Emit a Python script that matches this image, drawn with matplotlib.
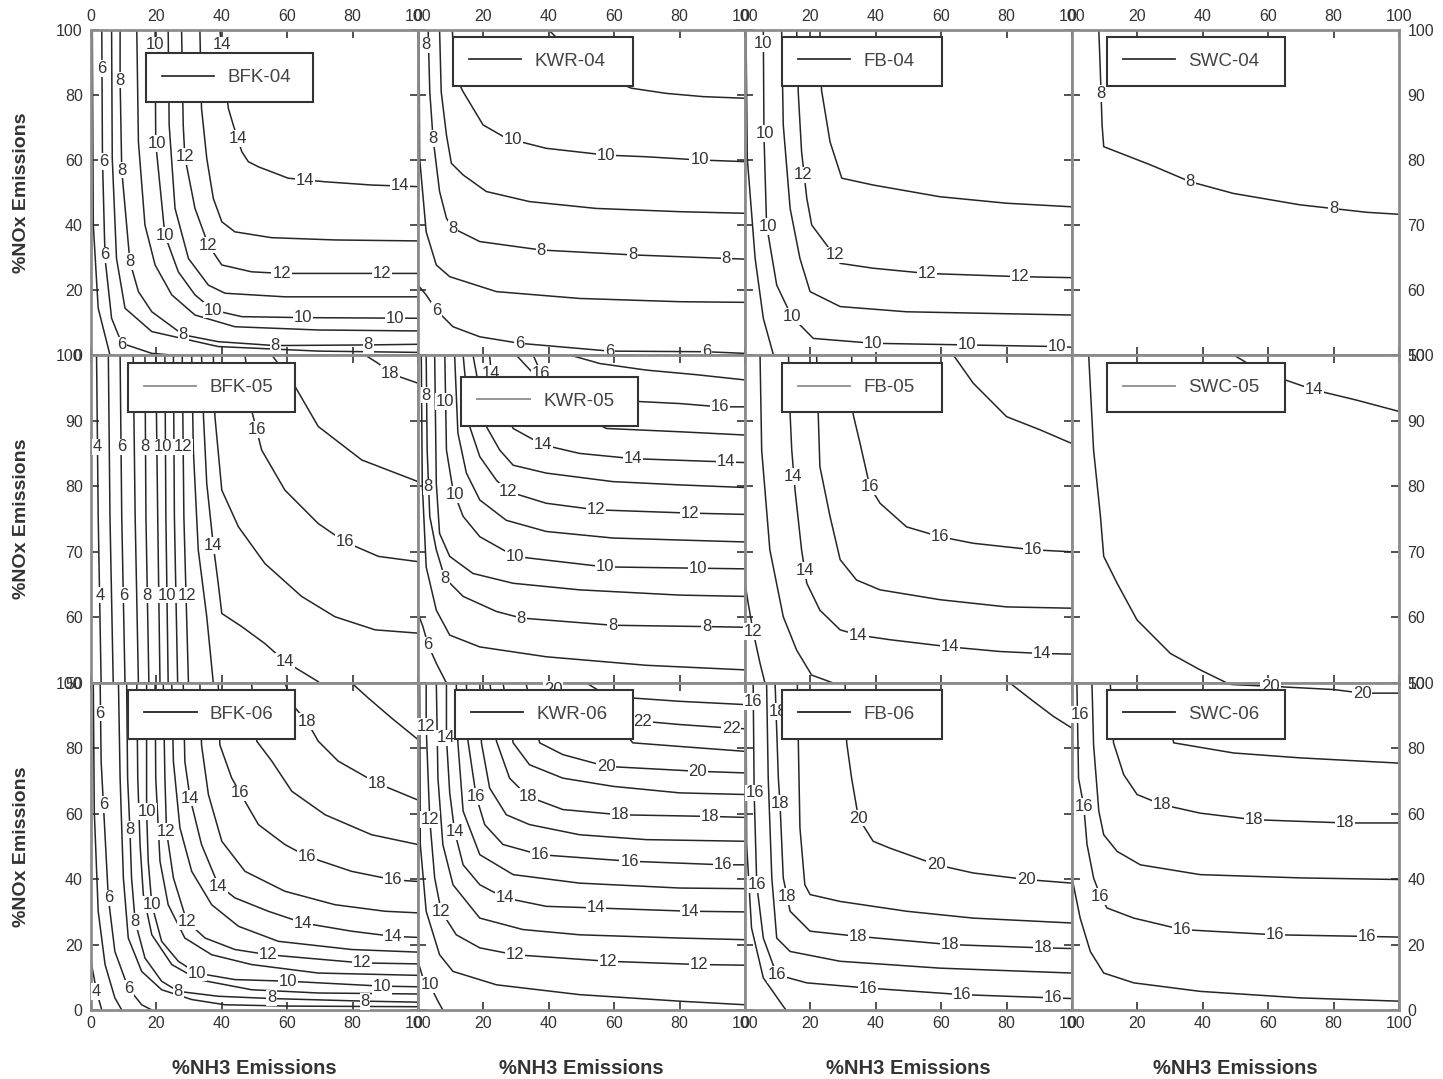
import matplotlib
matplotlib.use("Agg")
import matplotlib.pyplot as plt
from matplotlib.lines import Line2D

plt.rcParams["font.family"] = ["Liberation Sans", "DejaVu Sans"]

# ---------------------------------------------------------------------------
# Contour lines: (level, x = %NH3, y = %NOx)
# Labels: (x, y, level)
# ---------------------------------------------------------------------------
BFK04_LINES = [
    (5, [0.4, 0.7, 2.2, 5.8], [100, 40, 14.4, 0]),
    (6, [3.3, 3.5, 4.3, 6.3, 9.4, 18.6, 24.7], [100, 60.5, 29.7, 11.3, 3.6, 0.5, 0]),
    (7, [6.3, 6.5, 7.8, 10.4, 18.6, 38.9, 69.5, 100], [100, 60.5, 29.7, 14.4, 7.2, 2.6, 1.2, 0.8]),
    (8, [8.9, 8.9, 9.4, 11.9, 14.5, 18.6, 28.2, 38.9, 56.3, 84.8, 100],
     [100, 84.6, 56.9, 28.7, 19.5, 13.3, 6.2, 4.1, 2.9, 3.1, 3.3]),
    (9, [14.0, 14.5, 16.5, 19.6, 24.7, 31.8, 44.0, 69.5, 100], [100, 65.6, 40.0, 27.7, 18.5, 12.3, 8.7, 7.7, 7.4]),
    (10, [19.6, 19.8, 22.6, 26.7, 31.8, 37.4, 46.1, 64.9, 100], [100, 65.1, 36.9, 25.6, 18.5, 13.8, 11.8, 11.5, 11.3]),
    (11, [23.6, 23.9, 25.7, 29.8, 35.9, 41.0, 59.3, 100], [100, 70.8, 45.1, 29.7, 21.5, 19.0, 17.9, 17.9]),
    (12, [27.7, 28.2, 28.7, 31.8, 35.9, 40.0, 49.1, 58.3, 100], [100, 70.8, 61.0, 45.1, 33.8, 27.7, 25.6, 25.1, 25.1]),
    (13, [33.3, 33.8, 35.4, 37.4, 40.0, 44.0, 55.2, 74.6, 100], [100, 75.9, 60.5, 48.2, 41.0, 37.9, 36.1, 35.4, 35.1]),
    (14, [39.4, 42.0, 43.5, 46.1, 48.1, 51.2, 60.3, 71.6, 85.8, 100],
     [100, 75.9, 70.8, 62.6, 59.5, 57.9, 54.4, 53.3, 52.3, 51.8]),
]
BFK04_LABELS = [(3.3, 88.2, 6), (8.9, 84.6, 8), (19.6, 95.4, 10), (40.0, 95.4, 14), (3.8, 59.5, 6),
                (9.4, 56.9, 8), (20.1, 65.1, 10), (28.7, 61.0, 12), (45.1, 66.7, 14), (4.3, 30.8, 6),
                (11.9, 28.7, 8), (22.6, 36.9, 10), (35.9, 33.8, 12), (58.3, 25.1, 12), (88.9, 25.1, 12),
                (65.4, 53.8, 14), (94.5, 52.3, 14), (9.4, 3.1, 6), (28.2, 6.2, 8), (56.3, 2.9, 8),
                (84.8, 3.1, 8), (37.4, 13.8, 10), (64.9, 11.5, 10), (93.0, 11.3, 10)]

KWR04_LINES = [
    (6, [0, 2.5, 5.6, 10.7, 18.9, 31.1, 58.6, 88.2, 100], [21.5, 18.5, 13.8, 8.7, 5.6, 3.6, 1.2, 1.0, 0.5]),
    (7, [0.3, 0.5, 2.5, 5.6, 9.7, 24.0, 49.4, 80.0, 100], [100, 60.5, 37.9, 27.7, 24.1, 19.5, 17.4, 16.4, 16.2]),
    (8, [3.1, 3.6, 4.6, 6.6, 8.7, 10.7, 18.9, 37.7, 65.7, 94.3, 100],
     [100, 81.0, 66.7, 50.3, 42.1, 39.0, 34.9, 32.3, 30.8, 29.7, 29.5]),
    (9, [6.6, 7.1, 8.7, 10.2, 13.8, 20.9, 34.1, 54.5, 80.0, 100], [100, 81.0, 67.7, 59.0, 55.4, 50.3, 47.2, 45.1, 44.1, 43.6]),
    (10, [10.5, 11.2, 13.8, 19.9, 27.0, 39.2, 57.6, 69.8, 86.1, 100],
     [100, 86.2, 81.0, 70.8, 66.7, 63.6, 61.5, 61.0, 60.0, 59.5]),
    (11, [40.0, 52.0, 65.2, 75.9, 87.2, 100], [100, 88.0, 82.1, 80.5, 79.5, 79.0]),
]
KWR04_LABELS = [(2.5, 95.4, 8), (29.1, 66.2, 10), (57.6, 61.5, 10), (86.1, 60.0, 10), (4.6, 66.7, 8),
                (10.7, 39.0, 8), (37.7, 32.3, 8), (65.7, 30.8, 8), (94.3, 29.7, 8), (5.6, 13.8, 6),
                (31.1, 3.6, 6), (58.6, 1.2, 6), (88.2, 1.0, 6)]

FB04_LINES = [
    (9, [0.3, 0.7, 3.1, 5.6, 8.7], [100, 60.5, 29.7, 11.3, 0]),
    (10, [5.6, 5.8, 6.6, 9.7, 14.3, 20.9, 39.2, 67.8, 95.3, 100], [100, 67.7, 40.0, 21.5, 11.8, 5.1, 3.6, 3.1, 2.6, 2.4]),
    (11, [11.2, 11.7, 13.8, 16.8, 19.9, 29.1, 49.4, 100], [100, 70.8, 45.1, 29.7, 19.5, 14.9, 13.3, 12.3]),
    (12, [15.8, 16.3, 17.3, 18.9, 20.4, 25.0, 29.1, 39.2, 55.6, 84.1, 100],
     [100, 80.5, 62.6, 48.2, 40.0, 33.8, 28.2, 26.7, 25.1, 24.1, 23.8]),
    (13, [22.9, 23.4, 26.0, 29.6, 39.2, 59.6, 80.0, 100], [100, 81.5, 65.6, 54.4, 52.3, 48.7, 46.7, 45.6]),
]
FB04_LABELS = [(5.6, 95.9, 10), (6.1, 68.2, 10), (7.1, 39.5, 10), (14.3, 11.8, 10), (39.2, 3.6, 10),
               (67.8, 3.1, 10), (95.3, 2.6, 10), (17.8, 55.4, 12), (27.5, 30.8, 12), (55.6, 25.1, 12),
               (84.1, 24.1, 12)]

SWC04_LINES = [
    (8, [8.2, 8.7, 9.2, 9.7, 24.0, 36.2, 49.4, 69.8, 90.2, 100], [100, 86.2, 70.8, 64.1, 58.5, 53.3, 49.7, 46.2, 43.9, 43.3]),
]
SWC04_LABELS = [(8.7, 80.5, 8), (36.2, 53.3, 8), (80.0, 45.1, 8)]

BFK05_LINES = [
    (4, [1.7, 2.2, 3.1], [100, 75.4, 50]),
    (5, [5.3, 5.8, 6.8], [100, 75.4, 50]),
    (6, [8.9, 9.4, 10.4], [100, 75.4, 50]),
    (7, [12.9, 13.5, 14.5], [100, 75.4, 50]),
    (8, [16.5, 16.8, 17.7], [100, 75.4, 50]),
    (9, [19.8, 20.4, 21.1], [100, 75.4, 50]),
    (10, [22.6, 22.9, 23.6], [100, 75.4, 50]),
    (11, [25.2, 25.5, 26.5], [100, 75.4, 50]),
    (12, [27.9, 28.4, 29.8], [100, 75.4, 50]),
    (13, [30.8, 31.3, 32.8, 35.4, 37.4], [100, 85.5, 70.3, 60.1, 50]),
    (14, [33.8, 34.4, 35.4, 37.4, 38.9, 40.0, 46.1, 53.2, 59.3, 69.5],
     [100, 90.6, 80.4, 71.0, 65.2, 60.6, 58.6, 56.0, 53.3, 50.2]),
    (15, [37.4, 37.9, 40.0, 45.1, 53.2, 64.4, 74.6, 86.9, 100], [100, 90.6, 79.4, 73.8, 68.2, 63.2, 60.1, 58.1, 57.6]),
    (16, [47.1, 49.1, 52.2, 59.3, 69.5, 77.7, 87.9, 100], [100, 91.6, 85.5, 79.4, 74.3, 71.5, 69.3, 68.5]),
    (17, [55.3, 62.4, 69.5, 82.8, 100], [100, 95.2, 89.1, 84.0, 80.7]),
    (18, [83.8, 87.9, 91.4, 100], [100, 98.7, 97.2, 95.7]),
]
BFK05_LABELS = [(2.0, 86.0, 4), (9.4, 86.0, 6), (16.5, 86.0, 8), (22.1, 86.0, 10), (28.2, 86.0, 12),
                (2.8, 63.4, 4), (9.9, 63.4, 6), (17.0, 63.4, 8), (23.1, 63.4, 10), (29.3, 63.4, 12),
                (37.4, 71.0, 14), (59.3, 53.3, 14), (50.7, 88.6, 16), (77.7, 71.5, 16), (91.4, 97.2, 18)]

KWR05_LINES = [
    (6, [0, 1.5, 3.1, 5.6, 8.7], [60.6, 58.6, 55.8, 53.0, 50]),
    (7, [1.0, 1.3, 2.5, 5.6, 9.7, 18.9, 39.2, 69.8, 100], [100, 80.4, 67.7, 61.1, 57.3, 55.5, 54.0, 52.7, 52.0]),
    (8, [2.5, 2.8, 3.6, 5.6, 8.2, 13.8, 24.0, 31.6, 59.6, 88.2, 100],
     [100, 85.5, 75.4, 70.3, 66.0, 63.2, 60.9, 59.9, 58.8, 58.6, 58.5]),
    (9, [5.1, 5.6, 6.6, 9.7, 16.8, 29.1, 49.4, 80.0, 100], [100, 80.4, 72.8, 69.3, 66.7, 65.2, 64.2, 63.4, 63.2]),
    (10, [8.2, 8.7, 10.7, 13.8, 18.9, 29.6, 57.1, 85.6, 100], [100, 85.5, 79.4, 75.4, 72.3, 69.3, 67.7, 67.5, 67.4]),
    (11, [11.2, 12.2, 14.8, 18.9, 27.0, 39.2, 59.6, 100], [100, 88.1, 82.0, 77.9, 74.8, 73.1, 72.1, 71.5]),
    (12, [13.8, 15.8, 18.9, 24.0, 27.5, 39.2, 54.5, 83.1, 100], [100, 89.1, 84.5, 80.9, 79.2, 77.4, 76.4, 75.9, 75.7]),
    (13, [16.8, 20.9, 25.0, 29.1, 39.2, 59.6, 80.0, 100], [100, 89.1, 85.5, 83.2, 82.0, 80.7, 80.2, 79.8]),
    (14, [21.9, 22.4, 25.0, 29.1, 38.2, 49.4, 65.7, 94.3, 100], [100, 97.2, 93.0, 88.8, 86.3, 85.0, 84.2, 83.7, 83.6]),
    (15, [30.0, 45.0, 57.6, 80.0, 100], [100, 92.0, 88.8, 88.3, 87.8]),
    (16, [35.2, 37.7, 50.0, 67.8, 80.0, 92.3, 100], [100, 97.2, 94.0, 92.9, 92.6, 92.1, 92.1]),
    (17, [46.4, 55.6, 69.8, 85.1, 100], [100, 98.7, 97.7, 97.0, 96.2]),
]
KWR05_LABELS = [(2.5, 93.9, 8), (8.2, 92.9, 10), (22.4, 97.2, 14), (37.7, 97.2, 16), (92.3, 92.1, 16),
                (38.2, 86.3, 14), (65.7, 84.2, 14), (94.3, 83.7, 14), (3.1, 79.9, 8), (11.2, 78.7, 10),
                (27.5, 79.2, 12), (54.5, 76.4, 12), (83.1, 75.9, 12), (29.6, 69.3, 10), (57.1, 67.7, 10),
                (85.6, 67.5, 10), (8.2, 66.0, 8), (31.6, 59.9, 8), (59.6, 58.8, 8), (88.2, 58.6, 8),
                (3.1, 55.8, 6)]

FB05_LINES = [
    (12, [0, 1.0, 2.5, 4.6, 6.1], [65.2, 62.1, 57.8, 53.0, 50]),
    (13, [4.6, 5.1, 7.6, 11.7, 15.8, 20.4, 27.0], [100, 85.5, 70.3, 60.1, 55.0, 51.2, 50]),
    (14, [13.3, 13.8, 14.3, 15.3, 17.3, 18.9, 22.9, 29.1, 34.7, 44.3, 62.7, 78.0, 90.7, 100],
     [100, 90.9, 85.5, 79.4, 70.3, 65.2, 61.1, 58.1, 57.3, 56.6, 55.5, 54.8, 54.5, 54.4]),
    (15, [21.9, 22.4, 22.9, 26.0, 29.1, 34.1, 41.3, 59.6, 80.0, 100],
     [100, 90.9, 83.0, 75.4, 68.8, 65.7, 64.2, 62.7, 61.6, 61.4]),
    (16, [32.6, 33.1, 35.2, 38.2, 41.3, 49.4, 59.6, 69.8, 88.2, 100],
     [100, 90.9, 86.5, 79.9, 77.4, 73.8, 72.3, 71.3, 70.3, 70.0]),
    (17, [63.7, 69.8, 80.0, 90.2, 100], [100, 95.7, 90.6, 88.6, 86.5]),
]
FB05_LABELS = [(2.5, 57.8, 12), (14.8, 81.5, 14), (18.3, 67.2, 14), (34.7, 57.3, 14), (62.7, 55.5, 14),
               (90.7, 54.5, 14), (38.2, 79.9, 16), (59.6, 72.3, 16), (88.2, 70.3, 16)]

SWC05_LINES = [
    (14, [49.4, 54.5, 65.2, 73.9, 87.2, 100], [100, 98.5, 96.2, 94.7, 93.1, 91.4]),
    (15, [5.1, 6.6, 8.7, 9.7, 13.8, 19.9, 30.1, 39.2, 47.4], [100, 85.5, 75.4, 69.3, 65.2, 59.6, 54.5, 52.0, 50]),
]
SWC05_LABELS = [(73.9, 94.7, 14)]

BFK06_LINES = [
    (4, [0, 1.7, 3.3], [14.9, 5.7, 0]),
    (5, [0.7, 1.0, 2.2, 4.3, 7.3, 9.4], [100, 60.8, 30.2, 13.9, 3.7, 0]),
    (6, [2.8, 3.1, 3.8, 5.3, 7.3, 11.4, 15.5, 18.6], [100, 76.0, 62.8, 34.3, 17.9, 6.7, 1.6, 0]),
    (7, [8.4, 8.9, 9.9, 11.4, 15.5, 21.6, 30.8, 41.0, 60.0, 100], [100, 70.9, 40.4, 22.0, 11.8, 6.2, 3.2, 1.6, 1.2, 1.0]),
    (8, [10.9, 11.2, 11.9, 12.4, 13.5, 16.5, 21.6, 26.7, 38.9, 55.3, 83.8, 100],
     [100, 70.9, 55.1, 40.4, 27.1, 15.9, 8.8, 5.7, 4.2, 3.5, 2.7, 2.4]),
    (9, [14.0, 14.3, 15.0, 16.0, 18.6, 24.7, 32.8, 49.1, 69.5, 100], [100, 70.9, 50.6, 35.3, 23.0, 13.9, 9.3, 6.2, 5.2, 4.9]),
    (10, [17.0, 17.0, 17.5, 18.6, 21.6, 26.7, 32.3, 44.0, 60.3, 88.9, 100],
     [100, 60.8, 45.5, 32.2, 21.0, 14.9, 11.3, 9.3, 8.8, 7.3, 7.1]),
    (11, [19.6, 19.8, 21.1, 23.6, 28.7, 36.9, 49.1, 69.5, 100], [100, 70.9, 45.5, 32.2, 22.0, 16.9, 13.9, 11.3, 10.6]),
    (12, [22.1, 22.6, 23.1, 25.2, 29.3, 34.9, 44.0, 54.2, 82.8, 100],
     [100, 70.9, 54.6, 40.4, 27.1, 22.0, 18.5, 16.9, 14.4, 14.1]),
    (13, [24.7, 25.2, 27.2, 30.8, 36.9, 45.1, 57.3, 79.7, 100], [100, 76.0, 55.7, 42.4, 32.2, 25.6, 21.0, 18.5, 17.7]),
    (14, [28.2, 28.7, 30.3, 33.8, 38.9, 44.0, 54.2, 64.9, 79.7, 92.5, 100],
     [100, 76.0, 64.8, 50.6, 38.3, 34.3, 30.2, 26.6, 24.1, 22.5, 22.2]),
    (15, [33.3, 33.8, 35.9, 40.0, 47.1, 59.3, 74.6, 89.9, 100], [100, 81.1, 65.9, 51.6, 42.4, 36.3, 32.2, 30.2, 29.7]),
    (16, [38.9, 39.4, 43.0, 45.6, 51.2, 59.3, 66.0, 79.7, 92.5, 100],
     [100, 81.1, 71.0, 66.4, 56.7, 50.6, 47.0, 42.4, 39.8, 39.3]),
    (17, [49.1, 50.7, 55.3, 61.4, 71.6, 85.8, 100], [100, 82.2, 76.1, 66.9, 59.7, 53.6, 50.6]),
    (18, [59.3, 62.4, 66.0, 69.5, 75.6, 87.4, 100], [100, 92.4, 88.3, 82.2, 76.1, 69.4, 64.2]),
    (19, [79.7, 84.8, 91.9, 100], [100, 95.4, 89.3, 82.7]),
]
BFK06_LABELS = [(2.8, 90.8, 6), (3.8, 62.8, 6), (5.3, 34.3, 6), (11.4, 6.7, 6), (1.7, 5.7, 4),
                (11.9, 55.1, 8), (13.5, 27.1, 8), (26.7, 5.7, 8), (55.3, 3.7, 8), (83.8, 2.7, 8),
                (17.0, 60.8, 10), (18.6, 32.2, 10), (32.3, 11.3, 10), (60.3, 8.8, 10), (88.9, 7.2, 10),
                (23.1, 54.6, 12), (29.3, 27.1, 12), (54.2, 16.9, 12), (82.8, 14.4, 12), (30.3, 64.8, 14),
                (38.9, 37.8, 14), (64.9, 26.6, 14), (92.5, 22.5, 14), (45.6, 66.4, 16), (66.0, 47.0, 16),
                (92.5, 39.9, 16), (66.0, 88.3, 18), (87.4, 69.4, 18)]

KWR06_LINES = [
    (10, [0, 1.5, 3.6, 6.1, 7.6], [14.9, 9.8, 7.7, 2.7, 0]),
    (11, [0.5, 0.7, 2.5, 6.6, 10.7, 24.0, 49.4, 80.0, 100], [100, 50.6, 30.2, 16.9, 11.8, 7.7, 4.7, 2.7, 1.6]),
    (12, [2.5, 2.5, 3.1, 3.6, 5.1, 7.1, 11.7, 18.9, 29.6, 58.1, 86.1, 100],
     [100, 86.7, 70.9, 58.2, 40.4, 30.2, 23.0, 19.0, 16.9, 14.9, 13.9, 13.7]),
    (13, [5.6, 6.1, 7.6, 10.7, 18.9, 32.1, 49.4, 80.0, 100], [100, 70.9, 50.6, 38.3, 28.1, 24.6, 23.0, 22.0, 21.5]),
    (14, [8.7, 8.7, 9.7, 11.2, 13.8, 18.9, 26.5, 39.2, 54.5, 83.1, 100],
     [100, 83.2, 66.4, 54.6, 44.4, 38.3, 34.3, 31.7, 31.2, 30.2, 30.0]),
    (15, [11.7, 12.2, 13.8, 18.9, 29.1, 49.4, 80.0, 100], [100, 81.7, 60.8, 47.5, 41.4, 38.8, 37.3, 37.1]),
    (16, [14.8, 15.3, 16.8, 17.8, 20.4, 26.0, 37.2, 64.7, 93.3, 100],
     [100, 82.2, 72.0, 65.3, 56.7, 50.6, 47.5, 45.5, 44.4, 44.4]),
    (17, [18.9, 19.4, 21.9, 27.0, 34.1, 49.4, 69.8, 100], [100, 81.7, 67.9, 59.7, 56.7, 53.6, 52.1, 51.6]),
    (18, [22.0, 24.0, 28.0, 33.6, 44.3, 61.7, 89.2, 100], [100, 82.2, 70.9, 65.3, 61.3, 59.7, 59.2, 58.9]),
    (19, [26.0, 29.1, 34.1, 44.3, 59.6, 80.0, 100], [100, 81.7, 75.0, 70.9, 68.4, 66.4, 65.9]),
    (20, [33.0, 37.2, 44.3, 57.6, 85.6, 100], [100, 81.7, 78.1, 74.5, 73.0, 72.5]),
    (21, [55.0, 65.7, 80.0, 100], [95.0, 81.7, 80.6, 79.1]),
    (22, [60.0, 65.7, 68.8, 80.0, 95.8, 100], [95.0, 88.8, 88.3, 87.3, 86.2, 86.0]),
    (23, [51.5, 55.6, 65.7, 80.0, 100], [100, 97.5, 95.4, 94.4, 93.4]),
]
KWR06_LABELS = [(2.5, 86.7, 12), (8.7, 83.2, 14), (68.8, 88.3, 22), (95.8, 86.2, 22), (57.6, 74.5, 20),
                (85.6, 73.0, 20), (17.8, 65.3, 16), (33.6, 65.3, 18), (61.7, 59.7, 18), (89.2, 59.2, 18),
                (3.6, 58.2, 12), (11.2, 54.6, 14), (37.2, 47.5, 16), (64.7, 45.5, 16), (93.3, 44.4, 16),
                (26.5, 34.3, 14), (54.5, 31.2, 14), (83.1, 30.2, 14), (7.1, 30.2, 12), (29.6, 16.9, 12),
                (58.1, 14.9, 12), (86.1, 13.9, 12), (3.6, 7.7, 10), (41.3, 98.0, 20)]

FB06_LINES = [
    (15, [0.3, 0.5, 2.0, 5.6, 12.5], [100, 50.6, 25.1, 9.8, 0]),
    (16, [2.5, 2.8, 3.6, 5.6, 9.7, 18.9, 37.7, 66.3, 94.3, 100], [100, 66.4, 38.3, 22.0, 10.8, 8.3, 6.7, 4.7, 3.7, 3.5]),
    (17, [6.6, 7.1, 8.2, 9.7, 13.8, 29.1, 59.6, 100], [100, 70.9, 40.4, 22.0, 17.9, 14.9, 12.8, 11.3]),
    (18, [9.2, 10.2, 10.7, 11.7, 13.8, 19.9, 34.7, 62.7, 91.2, 100],
     [100, 70.9, 63.3, 40.4, 30.2, 24.1, 22.5, 20.0, 19.0, 18.8]),
    (19, [16.0, 16.3, 16.8, 18.3, 19.9, 29.1, 49.4, 69.8, 100], [100, 82.2, 55.7, 38.3, 35.3, 33.2, 30.2, 28.1, 26.6]),
    (20, [30.6, 31.1, 32.6, 34.7, 39.2, 44.3, 58.6, 69.8, 86.1, 100],
     [100, 81.7, 70.9, 58.7, 51.6, 49.5, 44.4, 41.9, 39.9, 38.8]),
    (21, [81.0, 88.2, 94.3, 100], [100, 94.4, 89.8, 86.2]),
]
FB06_LABELS = [(2.5, 94.4, 16), (3.1, 66.4, 16), (3.6, 38.3, 16), (9.7, 10.8, 16), (37.7, 6.7, 16),
               (66.3, 4.7, 16), (94.3, 3.7, 16), (10.2, 91.3, 18), (10.7, 63.3, 18), (12.7, 34.8, 18),
               (34.7, 22.5, 18), (62.7, 20.0, 18), (91.2, 19.0, 18), (34.7, 58.7, 20), (58.6, 44.4, 20),
               (86.1, 39.9, 20)]

SWC06_LINES = [
    (15, [0, 2.5, 5.6, 9.7, 18.9, 39.2, 69.8, 100], [40.4, 28.1, 17.9, 11.3, 8.3, 5.7, 3.7, 2.7]),
    (16, [1.5, 2.0, 3.6, 4.6, 6.6, 8.7, 10.7, 18.9, 33.6, 62.2, 90.2, 100],
     [100, 70.9, 62.3, 50.6, 40.4, 34.8, 31.2, 28.1, 24.6, 23.0, 22.5, 22.3]),
    (17, [6.1, 6.6, 8.2, 9.7, 13.8, 20.9, 39.2, 69.8, 100], [100, 81.1, 60.8, 53.6, 48.5, 44.4, 41.4, 40.4, 39.9]),
    (18, [11.7, 12.7, 15.8, 19.9, 27.5, 39.2, 55.6, 83.6, 100], [100, 81.7, 72.0, 65.9, 62.8, 60.2, 58.2, 57.2, 57.2]),
    (19, [28.0, 31.1, 49.4, 69.8, 100], [95.0, 81.7, 78.6, 77.1, 75.5]),
    (20, [44.3, 49.4, 60.7, 80.0, 88.7, 100], [100, 99.5, 99.0, 98.0, 96.9, 96.9]),
]
SWC06_LABELS = [(2.5, 90.3, 16), (3.6, 62.3, 16), (8.7, 34.8, 16), (33.6, 24.6, 16), (62.2, 23.0, 16),
                (90.2, 22.5, 16), (27.5, 62.8, 18), (55.6, 58.2, 18), (83.6, 57.2, 18), (60.7, 99.0, 20),
                (88.7, 96.9, 20)]

PANEL_NAMES = ["BFK-04", "KWR-04", "FB-04", "SWC-04",
               "BFK-05", "KWR-05", "FB-05", "SWC-05",
               "BFK-06", "KWR-06", "FB-06", "SWC-06"]
PANEL_LINES = [BFK04_LINES, KWR04_LINES, FB04_LINES, SWC04_LINES,
               BFK05_LINES, KWR05_LINES, FB05_LINES, SWC05_LINES,
               BFK06_LINES, KWR06_LINES, FB06_LINES, SWC06_LINES]
PANEL_LABELS = [BFK04_LABELS, KWR04_LABELS, FB04_LABELS, SWC04_LABELS,
                BFK05_LABELS, KWR05_LABELS, FB05_LABELS, SWC05_LABELS,
                BFK06_LABELS, KWR06_LABELS, FB06_LABELS, SWC06_LABELS]

X_TICKS = [0, 20, 40, 60, 80, 100]
ROW_YLIM = [(0, 100), (50, 100), (0, 100)]
ROW_YTICKS = [[0, 20, 40, 60, 80, 100], [50, 60, 70, 80, 90, 100], [0, 20, 40, 60, 80, 100]]
RIGHT_TICKS_ROW1 = [50, 60, 70, 80, 90, 100]

# ---- layout (pixels of a 1443 x 1079 canvas) ----
W, H = 1443, 1079
COL_X = [91, 418, 745, 1072]
COL_W = 327
ROW_Y = [(30, 355), (355, 683), (683, 1010)]
# legend boxes in axes fraction: (left, right, top)
LEGEND_BOX = [(0.168, 0.680, 0.928), (0.107, 0.657, 0.979), (0.112, 0.601, 0.979), (0.107, 0.652, 0.979),
              (0.112, 0.624, 0.975), (0.133, 0.673, 0.934), (0.112, 0.601, 0.975), (0.107, 0.652, 0.975),
              (0.114, 0.624, 0.980), (0.112, 0.657, 0.980), (0.112, 0.601, 0.980), (0.107, 0.652, 0.980)]
LEG_LINE_COLOR = ["#333333", "#8c8c8c", "#222222"]
LINE_COLOR = "#262626"
SPINE_COLOR = "0.55"

fig = plt.figure(figsize=(W / 100, H / 100), dpi=100)

for i, name in enumerate(PANEL_NAMES):
    r, c = divmod(i, 4)
    top, bot = ROW_Y[r]
    ax = fig.add_axes([COL_X[c] / W, 1 - bot / H, COL_W / W, (bot - top) / H])
    ax.set_xlim(0, 100)
    ax.set_ylim(*ROW_YLIM[r])
    ax.set_xticks(X_TICKS)
    ax.set_yticks(ROW_YTICKS[r])

    for level, xs, ys in PANEL_LINES[i]:
        ax.plot(xs, ys, color=LINE_COLOR, lw=1.1, zorder=2)
    for x, y, lev in PANEL_LABELS[i]:
        ax.text(x, y, str(lev), ha="center", va="center", fontsize=12, color="#333333",
                bbox=dict(facecolor="white", edgecolor="none", pad=0.6), zorder=3)

    ax.tick_params(direction="in", length=6, width=1.1, color="#222222", labelcolor="#333333",
                   labelsize=11.5, top=True, right=True,
                   labelleft=(c == 0), labelright=(c == 3 and r > 0),
                   labeltop=(r == 0), labelbottom=(r == 2))
    ax.tick_params(axis="y", pad=6)
    ax.tick_params(axis="x", pad=4)
    for s in ax.spines.values():
        s.set_color(SPINE_COLOR)
        s.set_linewidth(2.0)

    if r == 0 and c == 3:
        ax2 = ax.twinx()
        ax2.set_ylim(50, 100)
        ax2.set_yticks(RIGHT_TICKS_ROW1)
        ax2.tick_params(axis="y", length=0, pad=6, labelsize=11.5, labelcolor="#333333")
        for s in ax2.spines.values():
            s.set_visible(False)

    if c == 0:
        ax.set_ylabel("%NOx Emissions", fontsize=14, fontweight="bold", color="#333333")
        ax.yaxis.set_label_coords(-61 / COL_W, 0.5)
    if r == 2:
        ax.set_xlabel("%NH3 Emissions", fontsize=14.5, fontweight="bold", color="#333333")
        ax.xaxis.set_label_coords(0.5, -49 / (bot - top))

    x0, x1, ytop = LEGEND_BOX[i]
    handle = Line2D([], [], color=LEG_LINE_COLOR[r], lw=1.3)
    leg = ax.legend([handle], [name], loc="upper left", bbox_to_anchor=(x0, ytop - 0.16, x1 - x0, 0.16),
                    mode="expand", borderaxespad=0, borderpad=0.85, handlelength=2.8, handletextpad=0.7,
                    fancybox=False, framealpha=1, edgecolor="#333333", fontsize=13.5)
    leg.get_frame().set_linewidth(1.5)
    for t in leg.get_texts():
        t.set_color("#444444")

fig.savefig("out.png", dpi=100)
